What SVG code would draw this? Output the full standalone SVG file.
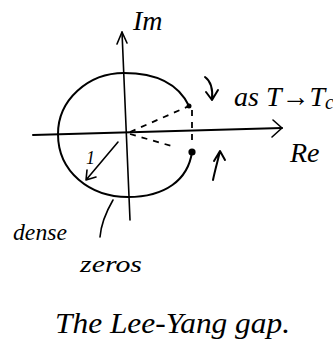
<svg xmlns="http://www.w3.org/2000/svg" width="333" height="349" viewBox="0 0 333 349">
<style>
.ln{fill:none;stroke:#000;stroke-width:2;stroke-linecap:round;stroke-linejoin:round}
.thin{fill:none;stroke:#000;stroke-width:1.6;stroke-linecap:round;stroke-linejoin:round}
.dash{fill:none;stroke:#000;stroke-width:1.8;stroke-dasharray:6 6}
.t{font-family:"Liberation Serif",serif;font-style:italic;fill:#000}
</style>
<rect width="333" height="349" fill="#fff"/>
<g id="connectors">
<path class="thin" d="M122,32 L130,220"/>
<path class="thin" d="M117,44 L122,32 L127,43"/>
<path class="ln" d="M33,135 L282,128"/>
<path class="thin" d="M273,120 L282,128 L272,137"/>
<path class="thin" d="M118,142 L86,180 M87,170 L86,180 L96,177"/>
<path class="ln" d="M205,77 C212,82 213,90 212,100 M206,92 L212,100 L218,90"/>
<path class="ln" d="M213,180 C215,170 218,160 220,151 M214,161 L220,151 L225,160"/>
<path class="thin" d="M113,200 C106,212 101,225 100,237"/>
</g>
<g id="circle">
<path class="ln" stroke-width="2.6" d="M189,106 C178,83 155,73 124,73 C88,73 58,100 58,134 C58,172 90,197 128,197 C165,197 188,180 192,152"/>
<path class="dash" d="M130,132 L189,106"/>
<path class="dash" stroke-dasharray="5 7" d="M130,134 L175,147"/>
<path class="dash" stroke-dasharray="4 8" d="M192,110 L192,146"/>
<circle cx="189" cy="106" r="2.5"/>
<circle cx="192" cy="152" r="3.6"/>
</g>
<g id="labels">
<text class="t" x="133" y="30" font-size="28">Im</text>
<text class="t" x="234" y="106" font-size="28">as T→T<tspan font-size="20" dy="3">c</tspan></text>
<text class="t" x="290" y="162" font-size="28">Re</text>
<text class="t" x="86" y="164" font-size="18">1</text>
<text class="t" x="13" y="240" font-size="24" textLength="54" lengthAdjust="spacingAndGlyphs">dense</text>
<text class="t" x="80" y="272" font-size="24" textLength="62" lengthAdjust="spacingAndGlyphs">zeros</text>
<text class="t" x="55" y="333" font-size="30" textLength="235" lengthAdjust="spacingAndGlyphs">The Lee-Yang gap.</text>
</g>
</svg>
